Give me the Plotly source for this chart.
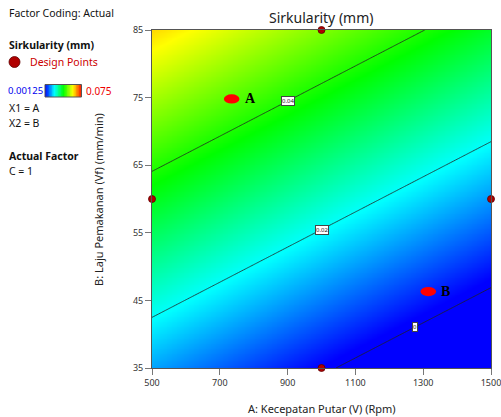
import numpy as np
import plotly.graph_objects as go

# ---- data ----
x_range = [500, 1500]          # A: Kecepatan Putar (Rpm)
y_range = [35, 85]             # B: Laju Pemakanan (mm/min)
# fitted linear model  Sirkularity = b0 + bA*A + bB*B
b0, bA, bB = -0.00731, -2.407e-5, 9.26e-4
z_min, z_max = 0.00125, 0.075
contour_levels = [0.0, 0.02, 0.04]
label_x = [1276, 1000, 900]    # where each contour label sits along A
design_A = [1000, 500, 1500, 1000]
design_B = [85, 60, 60, 35]
point_names = ["A", "B"]
point_A = [735, 1315]
point_B = [74.8, 46.3]
x_ticks = [500, 700, 900, 1100, 1300, 1500]
y_ticks = [35, 45, 55, 65, 75, 85]
cbar_vals = list(np.linspace(0.00125, 0.075, 50))

colorscale = [[0, "rgb(0,0,255)"], [0.25, "rgb(0,255,255)"], [0.5, "rgb(0,255,0)"],
              [0.75, "rgb(255,255,0)"], [1, "rgb(255,0,0)"]]

W, H = 501, 417
PL, PR, PT, PB = 152, 491, 30, 368   # plot area in pixels
def px(xp): return xp / W
def py(yp): return 1 - yp / H

gx = np.linspace(x_range[0], x_range[1], 201)
gy = np.linspace(y_range[0], y_range[1], 201)
GX, GY = np.meshgrid(gx, gy)
Z = b0 + bA * GX + bB * GY

fig = go.Figure()
fig.add_trace(go.Heatmap(x=gx, y=gy, z=Z, zmin=z_min, zmax=z_max, colorscale=colorscale,
                         zsmooth="best", showscale=False, hoverinfo="skip"))
fig.add_trace(go.Contour(x=gx, y=gy, z=Z, contours=dict(start=contour_levels[0], end=contour_levels[-1],
                         size=0.02, coloring="none"), line=dict(color="#222", width=0.8),
                         showscale=False, hoverinfo="skip"))
fig.add_trace(go.Scatter(x=design_A, y=design_B, mode="markers", cliponaxis=False,
                         marker=dict(size=7, color="#b00000", line=dict(color="#600000", width=0.8),
                                     opacity=1),
                         hoverinfo="skip"))
# colorbar swatch in legend
fig.add_trace(go.Heatmap(x=list(range(len(cbar_vals))), y=[0], z=[cbar_vals], zmin=z_min, zmax=z_max,
                         colorscale=colorscale, showscale=False, xaxis="x2", yaxis="y2",
                         zsmooth="best", hoverinfo="skip"))

ann = []
shapes = []
for lv, lx in zip(contour_levels, label_x):
    ly = (lv - b0 - bA * lx) / bB
    ann.append(dict(x=lx, y=ly, text=f"{lv:g}", showarrow=False, font=dict(size=6, color="#222"),
                    bgcolor="white", bordercolor="#444", borderwidth=1, borderpad=0))
for n, a, b in zip(point_names, point_A, point_B):
    shapes.append(dict(type="circle", xref="x", yref="y", xsizemode="pixel", ysizemode="pixel",
                       xanchor=a, yanchor=b, x0=-7.8, x1=7.8, y0=-4.6, y1=4.6,
                       fillcolor="#ff0000", line=dict(width=0)))
    ann.append(dict(x=a, y=b, text=f"<b>{n}</b>", showarrow=False, xanchor="left", xshift=11,
                    yshift=0, font=dict(family="Liberation Serif", size=14, color="black")))

fnt = "Noto Sans"
def lab(xp, yp, text, size=10.5, color="#111", bold=False):
    ann.append(dict(x=px(xp), y=py(yp), xref="paper", yref="paper", xanchor="left", yanchor="middle",
                    text=f"<b>{text}</b>" if bold else text, showarrow=False,
                    font=dict(family=fnt, size=size, color=color)))
lab(7, 13, "Factor Coding: Actual")
lab(7, 45, "Sirkularity (mm)", bold=True)
lab(28, 62, "Design Points", color="#cc0000")
lab(6, 91, "0.00125", size=9.5, color="#0000ee")
lab(84, 91, "0.075", size=10, color="#ee0000")
lab(7, 108, "X1 = A")
lab(7, 123, "X2 = B")
lab(7, 156, "Actual Factor", bold=True)
lab(7, 171, "C = 1")
ann.append(dict(x=px(321), y=py(18), xref="paper", yref="paper", text="Sirkularity (mm)",
                showarrow=False, font=dict(family=fnt, size=14, color="#222"), yanchor="middle"))
ann.append(dict(x=px(322), y=py(408), xref="paper", yref="paper",
                text="A: Kecepatan Putar (V) (Rpm)",
                showarrow=False, font=dict(family=fnt, size=11, color="#222"), yanchor="middle"))
ann.append(dict(x=px(98), y=py(200), xref="paper", yref="paper",
                text="B: Laju Pemakanan (Vf) (mm/min)",
                showarrow=False, textangle=-90, font=dict(family=fnt, size=11, color="#222"),
                xanchor="center", yanchor="middle"))

shapes += [dict(type="circle", xref="paper", yref="paper", x0=px(9), x1=px(20), y0=py(67.5), y1=py(56.5),
                fillcolor="#b00000", line=dict(color="#600000", width=0.8)),
           dict(type="rect", xref="paper", yref="paper", x0=px(45), x1=px(81.5), y0=py(97), y1=py(84.5),
                line=dict(color="#555", width=1))]

fig.update_layout(
    template="none",
    width=W, height=H, margin=dict(l=0, r=0, t=0, b=0, autoexpand=False),
    paper_bgcolor="white", plot_bgcolor="white",
    showlegend=False, annotations=ann, shapes=shapes, font=dict(family=fnt),
    xaxis=dict(domain=[px(PL), px(PR)], range=x_range, tickvals=x_ticks, ticks="outside", ticklen=6,
               tickcolor="#777", showgrid=False, zeroline=False, showline=True, linecolor="#555",
               mirror=True, tickfont=dict(size=9, color="#333"), automargin=False,
               ticklabeloverflow="allow"),
    yaxis=dict(domain=[py(PB), py(PT)], range=y_range, tickvals=y_ticks, ticks="outside", ticklen=6,
               tickcolor="#777", showgrid=False, zeroline=False, showline=True, linecolor="#555",
               mirror=True, tickfont=dict(size=9, color="#333"), automargin=False,
               ticklabeloverflow="allow"),
    xaxis2=dict(domain=[px(45), px(81.5)], anchor="y2", visible=False, range=[0, len(cbar_vals) - 1]),
    yaxis2=dict(domain=[py(97), py(84.5)], anchor="x2", visible=False, range=[-0.5, 0.5]),
)
fig.write_html("out.html")
